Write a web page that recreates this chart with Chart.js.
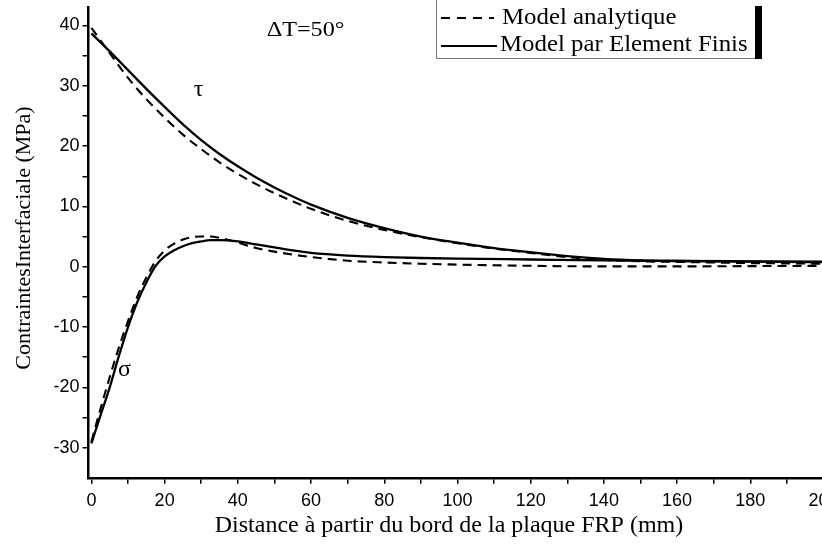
<!DOCTYPE html>
<html>
<head>
<meta charset="utf-8">
<script src="https://cdn.jsdelivr.net/npm/chart.js@4.4.1/dist/chart.umd.min.js"></script>
<style>
html, body { margin: 0; padding: 0; background: #fff; overflow: hidden; }
#wrap { width: 870px; height: 546px; }
</style>
</head>
<body>
<div id="wrap"><canvas id="stressChart" width="870" height="546"></canvas></div>
<script>
// distance from the plate edge (mm)
const xTau = [0, 5, 10, 15, 20, 25, 30, 35, 40, 45, 50, 55, 60, 70, 80, 90, 100, 110, 120, 130, 140, 150, 160, 170, 180, 190, 200];
const tauFEM = [38.7, 35.7, 32.6, 29.5, 26.5, 23.6, 21.0, 18.7, 16.65, 14.8, 13.15, 11.65, 10.3, 8.1, 6.4, 5.0, 4.0, 3.1, 2.4, 1.75, 1.3, 1.05, 0.95, 0.9, 0.85, 0.8, 0.75];
const tauAnalytic = [39.6, 35.4, 31.3, 27.8, 24.7, 21.9, 19.5, 17.3, 15.4, 13.7, 12.2, 10.85, 9.6, 7.6, 6.1, 4.9, 3.9, 3.0, 2.3, 1.6, 1.15, 0.9, 0.8, 0.7, 0.6, 0.55, 0.5];

const xSigma = [0, 2.5, 5, 7.5, 10, 12.5, 15, 17.5, 20, 22.5, 25, 27.5, 30, 32.5, 35, 40, 45, 50, 55, 60, 70, 80, 90, 100, 120, 140, 160, 180, 200];
const sigmaFEM = [-29.3, -24.6, -20.0, -14.8, -10.0, -5.9, -2.6, 0.1, 1.7, 2.7, 3.4, 3.9, 4.2, 4.4, 4.4, 4.2, 3.7, 3.2, 2.7, 2.3, 1.85, 1.6, 1.45, 1.35, 1.2, 1.05, 0.95, 0.9, 0.85];
const sigmaAnalytic = [-29.0, -23.5, -18.3, -13.4, -9.0, -5.0, -1.8, 0.9, 2.7, 3.8, 4.5, 4.9, 5.0, 5.0, 4.8, 4.0, 3.1, 2.5, 2.0, 1.6, 1.0, 0.7, 0.5, 0.35, 0.15, 0.05, 0.05, 0.1, 0.15];

const xTicks = [0, 10, 20, 30, 40, 50, 60, 70, 80, 90, 100, 110, 120, 130, 140, 150, 160, 170, 180, 190, 200];
const yTicks = [-30, -25, -20, -15, -10, -5, 0, 5, 10, 15, 20, 25, 30, 35, 40];

const seriesNames = ['Model analytique', 'Model par Element Finis'];

const SERIF = '"Liberation Serif", "Times New Roman", serif';
const SANS = '"Liberation Sans", Arial, sans-serif';

function points(xs, ys) {
    return xs.map((x, i) => ({ x: x, y: ys[i] }));
}

function text(ctx, str, x, y, size, stretch, align) {
    ctx.save();
    ctx.translate(x, y);
    ctx.scale(stretch, 1);
    ctx.font = size + 'px ' + SERIF;
    ctx.textAlign = align || 'center';
    ctx.textBaseline = 'middle';
    ctx.fillText(str, 0, 0);
    ctx.restore();
}

// titles, curve labels and the boxed legend
const overlay = {
    id: 'overlay',
    afterDraw(chart) {
        const ctx = chart.ctx;
        const xs = chart.scales.x;
        const ys = chart.scales.y;
        ctx.save();
        ctx.fillStyle = '#000';

        text(ctx, 'Distance à partir du bord de la plaque FRP (mm)', 449, 526, 24, 1.0);
        ctx.save();
        ctx.translate(24, 238);
        ctx.rotate(-Math.PI / 2);
        text(ctx, 'ContraintesInterfaciale (MPa)', 0, 0, 22, 1.0);
        ctx.restore();

        text(ctx, 'ΔT=50°', xs.getPixelForValue(58.5), ys.getPixelForValue(39.2), 21, 1.15);
        text(ctx, 'τ', xs.getPixelForValue(29.3), ys.getPixelForValue(29.3), 24, 1.0);
        text(ctx, 'σ', xs.getPixelForValue(9), ys.getPixelForValue(-17.1), 24, 1.0);

        // legend box
        ctx.fillStyle = '#fff';
        ctx.fillRect(436, 0, 320, 58);
        ctx.strokeStyle = '#777';
        ctx.lineWidth = 1;
        ctx.beginPath();
        ctx.moveTo(436.5, 0);
        ctx.lineTo(436.5, 58.5);
        ctx.lineTo(756, 58.5);
        ctx.stroke();
        ctx.fillStyle = '#000';
        ctx.fillRect(755, 6, 7, 53);

        ctx.strokeStyle = '#000';
        ctx.lineWidth = 2;
        ctx.setLineDash([9, 7]);
        ctx.beginPath();
        ctx.moveTo(441, 18);
        ctx.lineTo(494, 18);
        ctx.stroke();
        ctx.setLineDash([]);
        ctx.beginPath();
        ctx.moveTo(441, 46);
        ctx.lineTo(497, 46);
        ctx.stroke();

        text(ctx, seriesNames[0], 502, 18, 23, 1.08, 'left');
        text(ctx, seriesNames[1], 500, 45, 23, 1.08, 'left');
        ctx.restore();
    }
};

const CHART = document.getElementById('stressChart');
let stressChart = new Chart(CHART, {
    type: 'line',
    data: {
        datasets: [
            { label: seriesNames[1], data: points(xTau, tauFEM), borderColor: '#000', borderWidth: 2.3 },
            { label: seriesNames[0], data: points(xTau, tauAnalytic), borderColor: '#000', borderWidth: 2.1, borderDash: [9, 6] },
            { label: seriesNames[1], data: points(xSigma, sigmaFEM), borderColor: '#000', borderWidth: 2.3 },
            { label: seriesNames[0], data: points(xSigma, sigmaAnalytic), borderColor: '#000', borderWidth: 2.1, borderDash: [9, 6] }
        ]
    },
    options: {
        responsive: false,
        animation: false,
        devicePixelRatio: 1,
        layout: { padding: { top: 7.4, right: 46.5, bottom: 0, left: 0 } },
        elements: {
            point: { radius: 0 },
            line: { cubicInterpolationMode: 'monotone', fill: false }
        },
        plugins: {
            legend: { display: false },
            tooltip: { enabled: false }
        },
        scales: {
            x: {
                type: 'linear',
                min: -0.8,
                max: 200,
                afterBuildTicks: (scale) => { scale.ticks = xTicks.map(v => ({ value: v })); },
                afterFit: (scale) => { scale.height = 68.2; scale.paddingLeft = 0; scale.paddingRight = 0; },
                ticks: {
                    autoSkip: false,
                    maxRotation: 0,
                    padding: 6,
                    color: '#000',
                    font: { family: SANS, size: 18 },
                    callback: (v) => (v % 20 === 0 ? v : '')
                },
                grid: { drawOnChartArea: false, tickLength: 6, color: '#000', lineWidth: 1.5 },
                border: { color: '#000', width: 2.5 }
            },
            y: {
                type: 'linear',
                min: -35,
                max: 43,
                afterBuildTicks: (scale) => { scale.ticks = yTicks.map(v => ({ value: v })); },
                afterFit: (scale) => { scale.width = 88.5; scale.paddingTop = 0; scale.paddingBottom = 0; },
                ticks: {
                    autoSkip: false,
                    padding: 3,
                    color: '#000',
                    font: { family: SANS, size: 18 },
                    callback: (v) => (v % 10 === 0 ? v : '')
                },
                grid: { drawOnChartArea: false, tickLength: 6, color: '#000', lineWidth: 1.5 },
                border: { color: '#000', width: 2.5 }
            }
        }
    },
    plugins: [overlay]
});
</script>
</body>
</html>
